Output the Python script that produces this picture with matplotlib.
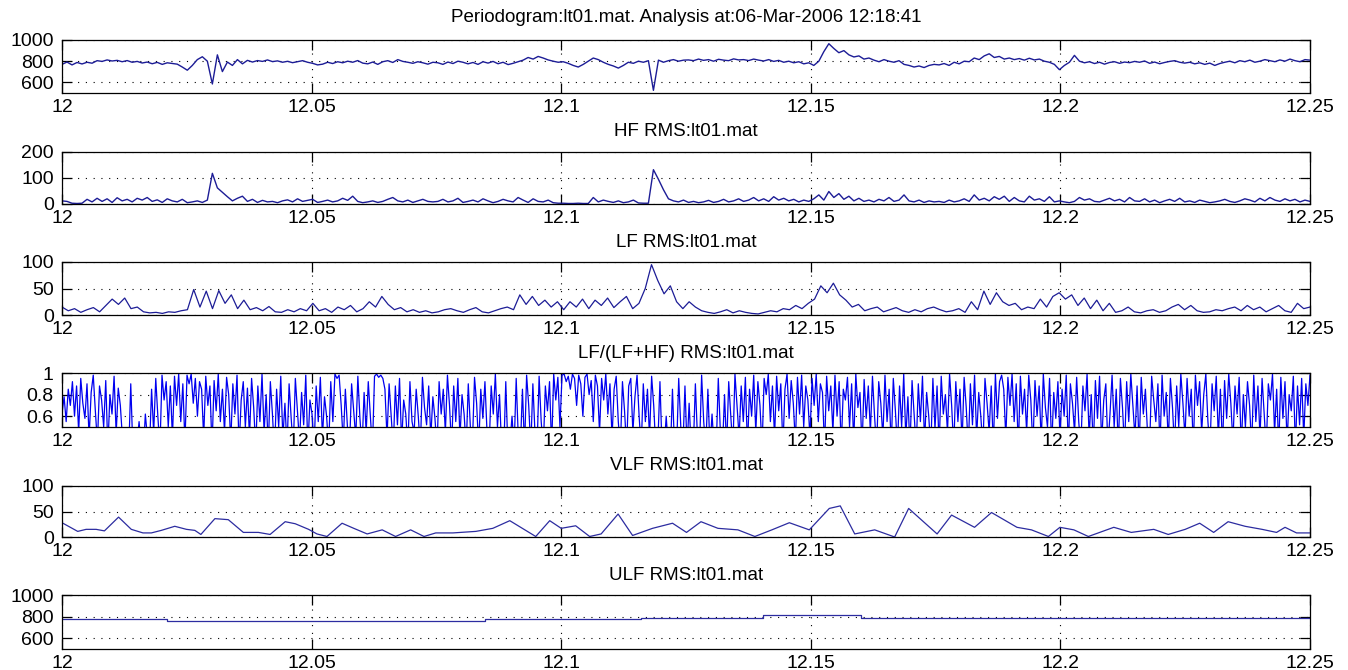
import numpy as np
import matplotlib
matplotlib.use("Agg")
import matplotlib.pyplot as plt

plt.rcParams['font.family'] = ['Liberation Sans', 'DejaVu Sans']

# ---------------- data ----------------
title_main = "Periodogram:lt01.mat. Analysis at:06-Mar-2006 12:18:41"
titles = ["HF RMS:lt01.mat", "LF RMS:lt01.mat", "LF/(LF+HF) RMS:lt01.mat",
          "VLF RMS:lt01.mat", "ULF RMS:lt01.mat"]
x_ticks = [12, 12.05, 12.1, 12.15, 12.2, 12.25]
x_ticklabels = ["12", "12.05", "12.1", "12.15", "12.2", "12.25"]

# panel 1: RR interval series
rr = [770, 792, 765, 788, 774, 790, 781, 805, 798, 812, 802, 808, 795, 806, 790, 798, 783, 792, 776, 789, 770, 785, 778, 772, 745,
      715, 760, 815, 842, 800, 585, 860, 702, 792, 760, 815, 775, 808, 792, 806, 798, 812, 796, 803, 790, 799, 786, 795, 805, 790,
      780, 765, 772, 790, 778, 795, 785, 800, 790, 806, 782, 775, 792, 770, 795, 805, 788, 815, 798, 790, 780, 795, 785, 772, 790,
      785, 770, 792, 778, 800, 790, 775, 788, 770, 795, 782, 798, 776, 790, 768, 780, 795, 810, 835, 820, 845, 830, 812, 800, 790,
      795, 780, 760, 745, 770, 800, 830, 815, 790, 770, 755, 735, 760, 790, 780, 800, 790, 805, 525, 810, 790, 805, 815, 800, 810,
      812, 805, 820, 808, 815, 800, 818, 810, 805, 822, 812, 815, 806, 820, 810, 802, 815, 798, 808, 790, 800, 785, 795, 775, 785,
      760, 800, 890, 965, 920, 880, 900, 860, 840, 850, 820, 830, 810, 795, 815, 800, 790, 805, 770, 760, 745, 755, 740, 760, 770,
      765, 778, 760, 790, 775, 800, 795, 830, 815, 850, 870, 835, 845, 820, 830, 815, 825, 810, 828, 812, 820, 800, 790, 770, 720,
      760, 790, 855, 800, 785, 795, 778, 790, 772, 788, 795, 780, 792, 786, 798, 790, 802, 780, 792, 776, 788, 798, 805, 790, 782,
      790, 775, 785, 770, 782, 760, 778, 790, 800, 785, 805, 795, 810, 790, 800, 815, 805, 795, 812, 800, 820, 805, 795, 815, 810]

# panel 2: HF RMS
hf = [12, 10, 3, 2, 3, 18, 8, 22, 10, 20, 6, 24, 12, 18, 8, 22, 15, 25, 10, 16, 6, 20, 12, 8, 18,
      5, 8, 12, 6, 15, 118, 62, 45, 28, 12, 22, 30, 10, 18, 6, 14, 8, 10, 5, 12, 16, 8, 20, 10, 14,
      18, 6, 10, 15, 8, 12, 22, 14, 30, 10, 5, 8, 12, 6, 10, 18, 25, 12, 8, 15, 6, 12, 18, 10, 8,
      10, 18, 8, 12, 22, 6, 10, 15, 8, 20, 12, 5, 10, 18, 12, 8, 25, 15, 6, 20, 10, 8, 15, 5, 3,
      3, 2, 2, 3, 2, 2, 25, 8, 15, 10, 6, 12, 5, 8, 15, 4, 3, 3, 132, 95, 55, 20, 12, 8, 15,
      6, 10, 5, 8, 14, 6, 10, 18, 8, 12, 20, 10, 15, 25, 12, 20, 10, 28, 15, 22, 12, 18, 8, 15, 10,
      20, 35, 15, 48, 25, 40, 18, 30, 12, 22, 10, 15, 8, 18, 12, 25, 10, 15, 35, 12, 8, 15, 6, 12, 8,
      10, 6, 15, 8, 12, 20, 10, 35, 15, 22, 12, 28, 18, 30, 10, 25, 12, 8, 30, 15, 20, 10, 28, 8, 12,
      8, 5, 10, 25, 15, 20, 10, 8, 15, 22, 12, 18, 8, 25, 12, 10, 20, 8, 15, 5, 12, 18, 10, 22, 8,
      12, 6, 15, 10, 5, 8, 12, 18, 10, 6, 12, 20, 15, 8, 22, 12, 25, 15, 10, 20, 12, 18, 8, 15, 10]

# panel 3: LF RMS
lf = [15, 8, 12, 5, 10, 14, 6, 18, 30, 20, 32, 12, 15, 6, 4, 5, 3, 6, 5, 8,
      10, 48, 15, 45, 12, 46, 22, 38, 12, 28, 10, 14, 8, 16, 6, 5, 10, 6, 12, 8,
      22, 8, 12, 5, 15, 10, 18, 6, 12, 25, 15, 35, 20, 10, 14, 6, 10, 5, 8, 4,
      6, 10, 12, 8, 5, 10, 14, 6, 4, 8, 12, 15, 10, 38, 20, 35, 18, 28, 15, 25,
      10, 25, 15, 30, 12, 28, 18, 32, 14, 25, 35, 12, 22, 50, 95, 65, 40, 55, 25, 12,
      25, 15, 8, 5, 3, 6, 10, 4, 8, 5, 3, 2, 5, 8, 6, 12, 10, 18, 12, 22,
      30, 55, 42, 60, 38, 28, 15, 20, 8, 12, 15, 6, 10, 14, 8, 5, 10, 6, 12, 15,
      10, 6, 8, 12, 5, 25, 10, 45, 20, 42, 25, 18, 22, 10, 15, 12, 30, 15, 35, 42,
      30, 38, 18, 32, 12, 28, 8, 22, 5, 8, 15, 6, 4, 8, 10, 5, 8, 15, 20, 10,
      18, 8, 5, 6, 10, 8, 12, 15, 8, 18, 10, 15, 6, 12, 18, 8, 5, 22, 12, 15]

# panel 4: LF/(LF+HF)
ratio = [0.62, 0.78, 0.55, 0.85, 0.70, 0.92, 0.60, 0.88, 0.45, 0.95, 0.72, 0.58, 0.90, 0.40, 0.82, 0.98, 0.65, 0.35, 0.88, 0.75, 0.50, 0.93, 0.30, 0.80, 0.62, 0.97, 0.44, 0.86, 0.70, 0.40,
         0.35, 0.30, 0.25, 0.90, 0.30, 0.20, 0.35, 0.55, 0.30, 0.25, 0.62, 0.40, 0.30, 0.85, 0.45, 0.95, 0.60, 0.30, 0.98, 0.75, 0.92, 0.50, 0.88, 0.40, 0.97, 0.70, 0.99, 0.55, 0.90, 0.35,
         0.98, 0.90, 0.99, 0.72, 0.95, 0.60, 0.92, 0.85, 0.40, 0.97, 0.70, 0.88, 0.30, 0.93, 0.65, 0.99, 0.55, 0.85, 0.45, 0.96, 0.80, 0.35, 0.90, 0.62, 0.98, 0.30, 0.75, 0.92, 0.50, 0.86,
         0.40, 0.95, 0.68, 0.30, 0.88, 0.55, 0.99, 0.45, 0.80, 0.30, 0.92, 0.62, 0.25, 0.85, 0.50, 0.97, 0.40, 0.72, 0.30, 0.90, 0.58, 0.30, 0.95, 0.65, 0.35, 0.82, 0.52, 0.98, 0.30, 0.75,
         0.62, 0.30, 0.88, 0.55, 0.96, 0.40, 0.78, 0.60, 0.30, 0.92, 0.55, 0.99, 0.95, 0.98, 0.70, 0.35, 0.85, 0.50, 0.30, 0.90, 0.65, 0.40, 0.97, 0.58, 0.30, 0.82, 0.45, 0.92, 0.60, 0.30,
         0.97, 0.99, 0.96, 0.98, 0.95, 0.85, 0.40, 0.90, 0.60, 0.30, 0.88, 0.52, 0.95, 0.35, 0.75, 0.62, 0.30, 0.92, 0.55, 0.45, 0.85, 0.60, 0.30, 0.96, 0.68, 0.52, 0.88, 0.40, 0.78, 0.58,
         0.30, 0.92, 0.62, 0.85, 0.45, 0.98, 0.70, 0.30, 0.88, 0.55, 0.95, 0.40, 0.80, 0.62, 0.30, 0.90, 0.50, 0.35, 0.96, 0.72, 0.30, 0.85, 0.58, 0.92, 0.45, 0.30, 0.88, 0.62, 0.99, 0.50,
         0.80, 0.30, 0.25, 0.92, 0.30, 0.35, 0.60, 0.30, 0.95, 0.40, 0.30, 0.85, 0.30, 0.98, 0.70, 0.30, 0.90, 0.45, 0.30, 0.97, 0.55, 0.30, 0.88, 0.65, 0.92, 0.30, 0.99, 0.75, 0.96, 0.50,
         0.98, 0.99, 0.92, 0.97, 0.85, 0.99, 0.95, 0.70, 0.98, 0.90, 0.60, 0.96, 0.99, 0.80, 0.93, 0.55, 0.98, 0.88, 0.45, 0.95, 0.75, 0.99, 0.62, 0.90, 0.40, 0.85, 0.97, 0.55, 0.30, 0.92,
         0.65, 0.30, 0.88, 0.95, 0.45, 0.78, 0.98, 0.60, 0.30, 0.90, 0.55, 0.85, 0.40, 0.97, 0.70, 0.30, 0.35, 0.92, 0.30, 0.30, 0.60, 0.30, 0.25, 0.85, 0.30, 0.30, 0.95, 0.50, 0.30, 0.88,
         0.30, 0.72, 0.30, 0.30, 0.90, 0.40, 0.30, 0.98, 0.55, 0.30, 0.85, 0.30, 0.62, 0.30, 0.30, 0.95, 0.45, 0.30, 0.80, 0.30, 0.92, 0.60, 0.30, 0.99, 0.70, 0.40, 0.88, 0.55, 0.96, 0.30,
         0.85, 0.60, 0.98, 0.45, 0.92, 0.70, 0.30, 0.95, 0.80, 0.99, 0.55, 0.88, 0.40, 0.97, 0.65, 0.90, 0.30, 0.85, 0.99, 0.58, 0.93, 0.72, 0.35, 0.96, 0.62, 0.98, 0.50, 0.88, 0.75, 0.40,
         0.95, 0.70, 0.99, 0.55, 0.90, 0.82, 0.30, 0.97, 0.65, 0.88, 0.45, 0.98, 0.60, 0.92, 0.30, 0.85, 0.75, 0.96, 0.50, 0.90, 0.35, 0.99, 0.68, 0.82, 0.30, 0.94, 0.58, 0.88, 0.45, 0.97,
         0.60, 0.30, 0.92, 0.72, 0.40, 0.98, 0.55, 0.85, 0.30, 0.95, 0.65, 0.30, 0.88, 0.50, 0.99, 0.40, 0.78, 0.30, 0.93, 0.62, 0.30, 0.90, 0.55, 0.97, 0.35, 0.82, 0.60, 0.30, 0.95, 0.48,
         0.88, 0.30, 0.97, 0.62, 0.80, 0.45, 0.99, 0.70, 0.30, 0.92, 0.55, 0.85, 0.35, 0.96, 0.68, 0.30, 0.90, 0.52, 0.98, 0.40, 0.82, 0.60, 0.30, 0.95, 0.72, 0.45, 0.88, 0.30, 0.99, 0.58,
         0.92, 0.98, 0.85, 0.40, 0.96, 0.70, 0.99, 0.55, 0.90, 0.30, 0.97, 0.62, 0.85, 0.45, 0.98, 0.75, 0.30, 0.93, 0.60, 0.88, 0.35, 0.99, 0.68, 0.50, 0.95, 0.30, 0.82, 0.58, 0.92, 0.40,
         0.85, 0.60, 0.98, 0.30, 0.90, 0.72, 0.45, 0.96, 0.55, 0.30, 0.88, 0.65, 0.99, 0.40, 0.80, 0.30, 0.93, 0.58, 0.97, 0.35, 0.75, 0.90, 0.30, 0.62, 0.98, 0.50, 0.85, 0.30, 0.95, 0.68,
         0.30, 0.92, 0.55, 0.99, 0.70, 0.40, 0.88, 0.30, 0.96, 0.62, 0.85, 0.45, 0.30, 0.97, 0.75, 0.55, 0.90, 0.30, 0.98, 0.60, 0.82, 0.35, 0.95, 0.68, 0.30, 0.88, 0.50, 0.99, 0.72, 0.40,
         0.95, 0.60, 0.85, 0.30, 0.98, 0.70, 0.92, 0.45, 0.80, 0.99, 0.55, 0.30, 0.90, 0.65, 0.97, 0.40, 0.85, 0.30, 0.93, 0.58, 0.99, 0.72, 0.35, 0.88, 0.62, 0.96, 0.30, 0.80, 0.50, 0.92,
         0.70, 0.30, 0.98, 0.55, 0.88, 0.40, 0.95, 0.62, 0.30, 0.90, 0.75, 0.99, 0.45, 0.85, 0.30, 0.96, 0.58, 0.92, 0.35, 0.80, 0.65, 0.97, 0.30, 0.88, 0.52, 0.95, 0.40, 0.90, 0.70, 0.98]

# panel 5: VLF RMS (time, value)
vlf_t = [12.0, 12.00315, 12.00483, 12.00684, 12.0085, 12.01133, 12.01388, 12.01622, 12.0179, 12.0199,
         12.02259, 12.02493, 12.02661, 12.02782, 12.03063, 12.03331, 12.03633, 12.03934, 12.04169, 12.04471,
         12.04672, 12.0494, 12.05107, 12.05308, 12.0561, 12.05845, 12.06113, 12.06414, 12.06682, 12.06984,
         12.07252, 12.07487, 12.0783, 12.0829, 12.0863, 12.0897, 12.0949, 12.0977, 12.1, 12.1029,
         12.1057, 12.108, 12.1114, 12.1143, 12.1183, 12.1223, 12.1251, 12.128, 12.1314, 12.1354,
         12.1388, 12.1422, 12.1457, 12.1497, 12.1537, 12.1559, 12.1588, 12.1628, 12.1668, 12.1696,
         12.1753, 12.1782, 12.1828, 12.1862, 12.1913, 12.1942, 12.1976, 12.1999, 12.2027, 12.2056,
         12.2107, 12.2142, 12.2187, 12.2216, 12.225, 12.2279, 12.2307, 12.2336, 12.237, 12.2404,
         12.2433, 12.245, 12.2473, 12.25]
vlf = [28, 11, 15, 15, 12, 39, 15, 8, 8, 13,
       21, 15, 13, 5, 36, 34, 9, 9, 5, 30,
       26, 15, 6, 1, 27, 17, 6, 14, 1, 14,
       1, 8, 8, 11, 17, 32, 1, 32, 17, 22,
       1, 6, 45, 3, 17, 27, 9, 30, 17, 14,
       1, 14, 28, 14, 56, 61, 6, 14, 0, 56,
       6, 43, 19, 48, 19, 14, 1, 19, 14, 1,
       19, 9, 15, 5, 15, 27, 9, 30, 21, 15,
       9, 19, 8, 8]

# panel 6: ULF RMS (step edges and levels)
ulf_t = [12.0, 12.021, 12.0847, 12.116, 12.1405, 12.160, 12.25]
ulf = [775, 758, 775, 790, 812, 785, 785]

# ---------------- figure ----------------
W, H = 1348, 670
fig = plt.figure(figsize=(W / 100, H / 100), dpi=100)

left, right = 62, 1310
panels_px = [(40, 93), (152, 204), (262, 315), (373, 427), (486, 537), (595, 649)]

ylims = [(500, 1000), (0, 200), (0, 100), (0.5, 1.0), (0, 100), (500, 1000)]
yticks = [[600, 800, 1000], [0, 100, 200], [0, 50, 100], [0.6, 0.8, 1.0], [0, 50, 100], [600, 800, 1000]]
yticklabels = [["600", "800", "1000"], ["0", "100", "200"], ["0", "50", "100"],
               ["0.6", "0.8", "1"], ["0", "50", "100"], ["600", "800", "1000"]]

col_dark = "#1c1c96"
col_blue = "#0000f0"
col_mid = "#2c2ca0"

axes = []
for (top, bot) in panels_px:
    ax = fig.add_axes([left / W, 1 - bot / H, (right - left) / W, (bot - top) / H])
    axes.append(ax)

t_rr = np.linspace(12, 12.25, len(rr))
t_hf = np.linspace(12, 12.25, len(hf))
t_lf = np.linspace(12, 12.25, len(lf))
t_ra = np.linspace(12, 12.25, len(ratio))

axes[0].plot(t_rr, rr, color=col_dark, lw=1.0)
axes[1].plot(t_hf, hf, color=col_dark, lw=1.0)
axes[2].plot(t_lf, lf, color=col_dark, lw=0.9)
axes[3].plot(t_ra, ratio, color=col_blue, lw=0.9)
axes[4].plot(vlf_t, vlf, color=col_mid, lw=0.9)
axes[5].step(ulf_t, ulf, where='post', color=col_mid, lw=0.9)

for i, ax in enumerate(axes):
    ax.set_xlim(12, 12.25)
    ax.set_ylim(*ylims[i])
    ax.set_xticks(x_ticks)
    ax.set_xticklabels(x_ticklabels)
    ax.set_yticks(yticks[i])
    ax.set_yticklabels(yticklabels[i])
    ax.tick_params(direction='in', length=7, width=0.9, top=True, right=True,
                   labelsize=14, pad=4, colors='black')
    ax.tick_params(axis='y', pad=6)
    ax.grid(True, linestyle=(0, (1, 6)), color='black', linewidth=0.8)
    for s in ax.spines.values():
        s.set_linewidth(0.9)
        s.set_color('black')
    ax.set_axisbelow(True)

fig.text(0.5 * (left + right) / W, 1 - 18 / H, title_main, ha='center', va='center', fontsize=13.5)
title_y = [132, 242, 353, 465, 575]
for t, y in zip(titles, title_y):
    fig.text(0.5 * (left + right) / W, 1 - y / H, t, ha='center', va='center', fontsize=13.5)

fig.savefig("out.png", dpi=100)
